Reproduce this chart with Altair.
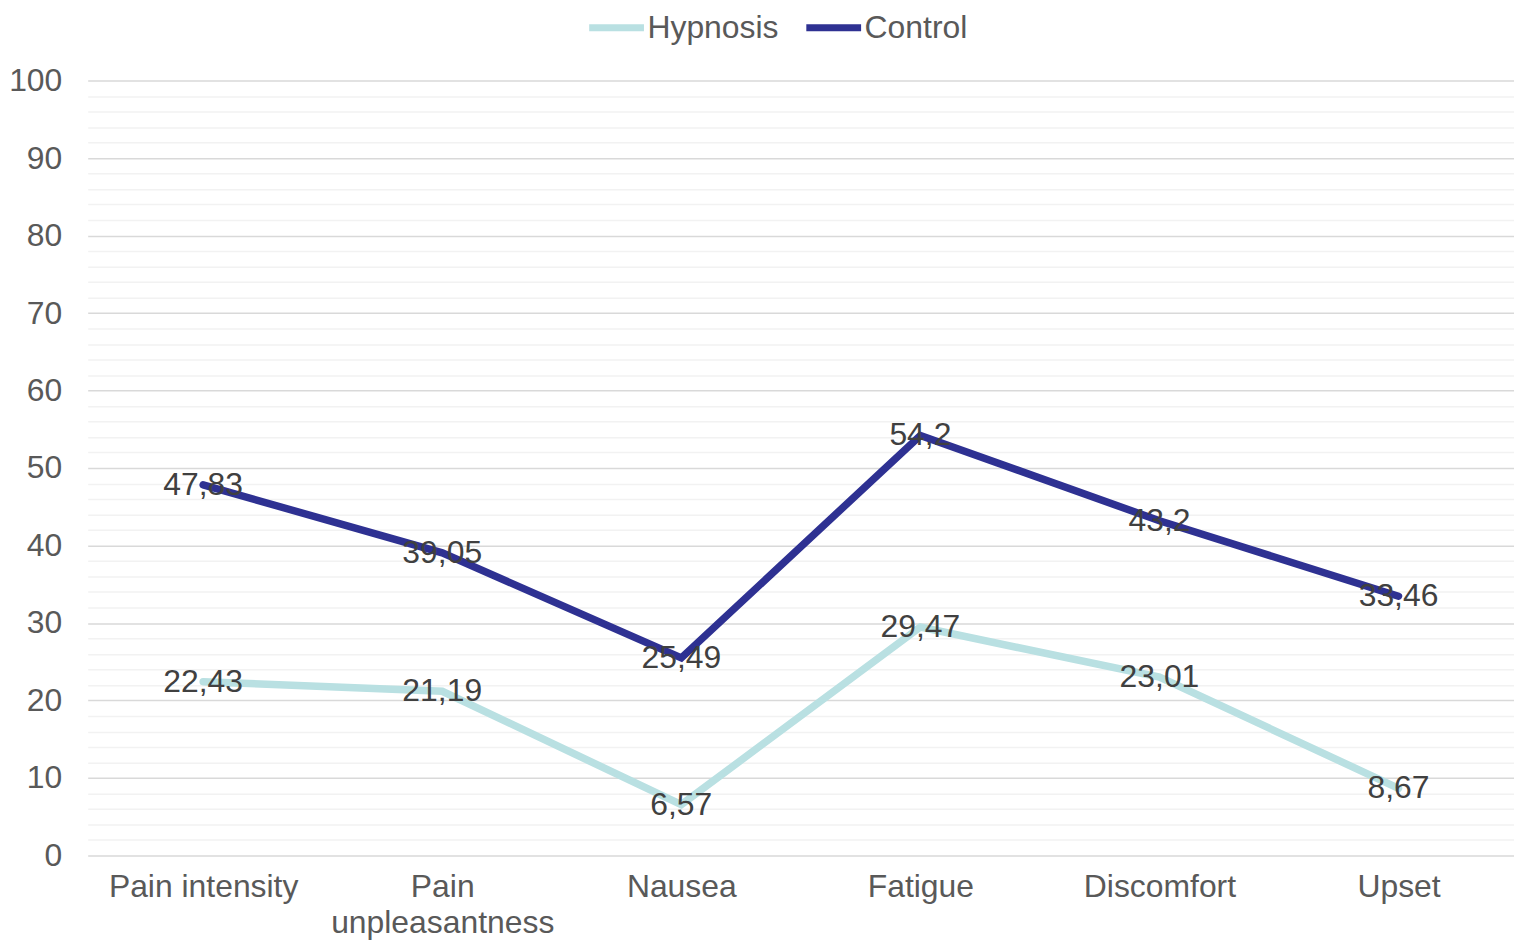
import altair as alt
import pandas as pd

categories = ["Pain intensity", "Pain unpleasantness", "Nausea", "Fatigue", "Discomfort", "Upset"]
hypnosis = [22.43, 21.19, 6.57, 29.47, 23.01, 8.67]
control = [47.83, 39.05, 25.49, 54.2, 43.2, 33.46]
series_names = ["Hypnosis", "Control"]
series_colors = ["#B9E0E2", "#2E3192"]
y_ticks = list(range(0, 101, 2))

rows = []
for name, vals in zip(series_names, [hypnosis, control]):
    for c, v in zip(categories, vals):
        rows.append({"category": c, "series": name, "value": v})
df = pd.DataFrame(rows)

FONT = "Liberation Sans"
FS = 32

x_enc = alt.X(
    "category:N",
    sort=categories,
    title=None,
    scale=alt.Scale(type="point", padding=0.483),
    axis=alt.Axis(
        labelAngle=0,
        labelFont=FONT,
        labelFontSize=FS,
        labelColor="#595959",
        labelPadding=16,
        labelLineHeight=36,
        labelLimit=0,
        labelOverlap=False,
        ticks=False,
        domain=False,
        grid=False,
        labelExpr="datum.value === 'Pain unpleasantness' ? split(datum.value, ' ') : datum.value",
    ),
)
y_enc = alt.Y(
    "value:Q",
    scale=alt.Scale(domain=[0, 100], nice=False),
    title=None,
    axis=alt.Axis(
        values=y_ticks,
        labelExpr="datum.value % 10 === 0 ? datum.label : ''",
        labelFont=FONT,
        labelFontSize=FS,
        labelColor="#595959",
        labelPadding=26,
        labelOverlap=False,
        labelBound=False,
        ticks=False,
        domain=False,
        gridWidth=1.5,
        gridColor={"condition": {"test": "datum.value % 10 === 0", "value": "#D9D9D9"}, "value": "#F2F2F2"},
    ),
)

base = alt.Chart(df)

lines = base.mark_line(strokeWidth=7.5, strokeCap="round", strokeJoin="miter").encode(
    x=x_enc,
    y=y_enc,
    color=alt.Color(
        "series:N",
        scale=alt.Scale(domain=series_names, range=series_colors),
        legend=alt.Legend(
            title=None,
            orient="none",
            direction="horizontal",
            legendX=500,
            legendY=-84,
            symbolType="stroke",
            symbolSize=3025,
            symbolStrokeWidth=7,
            labelFont=FONT,
            labelFontSize=FS,
            labelColor="#595959",
            labelOffset=0,
            columnPadding=13,
        ),
    ),
    order=alt.Order("series_order:Q"),
).transform_calculate(series_order="datum.series === 'Hypnosis' ? 0 : 1")

labels = base.mark_text(
    font=FONT, fontSize=FS, color="#404040", align="center", baseline="middle"
).encode(
    x=x_enc,
    y=y_enc,
    text="label:N",
).transform_calculate(label="replace(toString(datum.value), '.', ',')")

chart = alt.layer(lines, labels).properties(
    width=1432,
    height=778,
    autosize=alt.AutoSizeParams(type="none"),
    padding={"left": 80, "top": 71, "right": 0, "bottom": 87},
).configure_view(stroke=None)

chart.save("out.html", embed_options={"renderer": "svg", "actions": False})
